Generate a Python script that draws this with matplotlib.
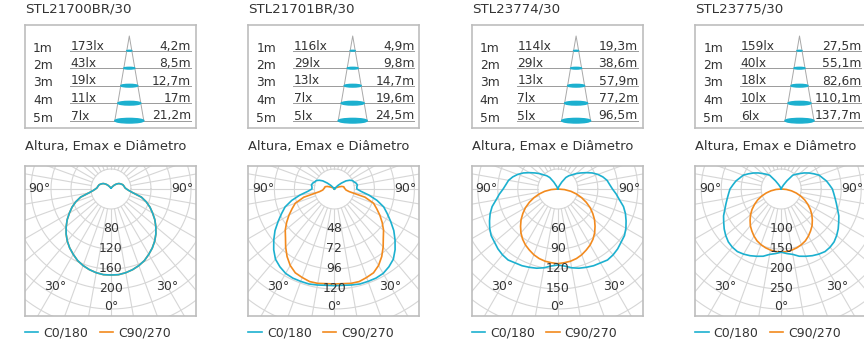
'''
Catalogue sheet: illuminance table and polar light distribution
for four spotlights.
'''

import numpy as np
import matplotlib
matplotlib.use('Agg')
from matplotlib import pyplot as pl
from matplotlib.patches import Ellipse

# Product codes
models = ['STL21700BR/30', 'STL21701BR/30', 'STL23774/30', 'STL23775/30']

# Table: mounting height, illuminance and beam diameter
heights = ['1m', '2m', '3m', '4m', '5m']
lux = [
       ['173lx', '43lx', '19lx', '11lx', '7lx'],
       ['116lx', '29lx', '13lx', '7lx', '5lx'],
       ['114lx', '29lx', '13lx', '7lx', '5lx'],
       ['159lx', '40lx', '18lx', '10lx', '6lx'],
       ]
diam = [
        ['4,2m', '8,5m', '12,7m', '17m', '21,2m'],
        ['4,9m', '9,8m', '14,7m', '19,6m', '24,5m'],
        ['19,3m', '38,6m', '57,9m', '77,2m', '96,5m'],
        ['27,5m', '55,1m', '82,6m', '110,1m', '137,7m'],
        ]

# Ring step of each polar diagram (cd/klm)
ring_step = [40, 24, 30, 50]

# Polar curves: angle from nadir [deg] and intensity [cd/klm]
ang = list(range(0, 181, 5))

c0_1 = [172, 172, 170, 167, 163, 158, 151, 144, 136, 127, 117, 107, 96,
        86, 75, 63, 45, 36, 31, 28, 27, 26, 25, 23, 21, 19, 16, 13, 10,
        7, 5, 4, 3, 2, 2, 2, 2]
c90_1 = [172, 172, 170, 167, 163, 158, 151, 144, 136, 127, 117, 107, 96,
         86, 75, 63, 45, 36, 31, 28, 27, 26, 25, 23, 21, 19, 16, 13, 10,
         7, 5, 4, 3, 2, 2, 2, 2]

c0_2 = [116, 116, 117, 118, 118, 118, 117, 114, 110, 103, 95, 87, 78,
        70, 63, 53, 42, 32, 27, 27, 28, 27, 25, 24, 21, 17, 11, 6, 2,
        1, 1, 0, 0, 0, 0, 0, 0]
c90_2 = [114, 114, 115, 115, 113, 111, 106, 99, 91, 83, 77, 70, 63,
         56, 50, 38, 18, 14, 13, 12, 12, 11, 9, 6, 4, 3, 2, 1, 1,
         0, 0, 0, 0, 0, 0, 0, 0]

c0_3 = [114, 116, 120, 123, 125, 127, 128, 130, 129, 127, 124, 122, 118,
        113, 108, 102, 94, 88, 82, 78, 75, 70, 64, 57, 49, 42, 36, 30, 26,
        21, 12, 5, 2, 1, 0, 0, 0]
c90_3 = [112, 111, 110, 108, 105, 101, 97, 92, 86, 79, 72, 64, 56,
         47, 38, 29, 20, 10, 0, 0, 0, 0, 0, 0, 0, 0, 0, 0, 0,
         0, 0, 0, 0, 0, 0, 0, 0]

c0_4 = [158, 162, 166, 174, 179, 184, 188, 191, 190, 187, 181, 174, 166,
        159, 150, 143, 137, 132, 128, 121, 115, 107, 101, 90, 80, 70, 60,
        52, 45, 25, 12, 5, 2, 1, 0, 0, 0]
c90_4 = [158, 157, 155, 152, 148, 143, 136, 128, 120, 110, 100, 89, 77,
         65, 52, 39, 26, 13, 0, 0, 0, 0, 0, 0, 0, 0, 0, 0, 0,
         0, 0, 0, 0, 0, 0, 0, 0]

curves = [(c0_1, c90_1), (c0_2, c90_2), (c0_3, c90_3), (c0_4, c90_4)]

blue = '#1cb0cf'
orange = '#f28a1e'
grid = '#d6d6d6'
frame = '#bdbdbd'
ink = '#333333'

W, H = 864.0, 346.0


def rect(x, y, w, h):
    '''
    Axes rectangle from pixel box (origin at top left).
    '''
    return [x/W, 1-(y+h)/H, w/W, h/H]


def mirrored(angles, values):
    '''
    Close a symmetric curve (both half planes) and return x, y.
    '''
    a = np.radians(np.asarray(angles, dtype=float))
    r = np.asarray(values, dtype=float)
    th = np.concatenate([-a[::-1], a[1:]])
    rr = np.concatenate([r[::-1], r[1:]])
    return rr*np.sin(th), -rr*np.cos(th)


fig = pl.figure(figsize=(8.64, 3.46), dpi=100)

for i in range(4):

    left = 25 + 223.4*i

    fig.text(left/W, 1-8.5/H, models[i], fontsize=9.6, color=ink,
             ha='left', va='center')
    fig.text(left/W, 1-146.7/H, 'Altura, Emax e Diâmetro', fontsize=9.4,
             color=ink, ha='left', va='center')

    # Illuminance table with the light cone
    ax = fig.add_axes(rect(left, 25, 171, 103))
    ax.set_xlim(0, 171)
    ax.set_ylim(103, 0)
    ax.set_xticks([])
    ax.set_yticks([])
    for sp in ax.spines.values():
        sp.set_color(frame)
        sp.set_linewidth(1.2)

    apex = (104.3, 11)
    base = 95.7
    half = 14.5
    ax.plot([apex[0]-half, apex[0], apex[0]+half], [base, apex[1], base],
            color='#a8a8a8', lw=0.7)

    for j in range(5):
        yl = 25.7 + 17.5*j
        ax.plot([45, 166], [yl, yl], color='#9a9a9a', lw=0.7, zorder=1)
        w = 2*half*(yl-apex[1])/(base-apex[1])
        ax.add_patch(Ellipse((apex[0], yl), w, max(0.8, w*0.16),
                             color=blue, zorder=2))
        ax.text(8, yl+0.8, heights[j], fontsize=8.8, color=ink,
                ha='left', va='baseline')
        ax.text(45.5, yl-1.2, lux[i][j], fontsize=8.8, color=ink,
                ha='left', va='baseline')
        ax.text(166, yl-1.2, diam[i][j], fontsize=8.8, color=ink,
                ha='right', va='baseline')

    # Polar diagram clipped to a box
    s = ring_step[i]
    axp = fig.add_axes(rect(left, 166, 171, 150))
    axp.set_xlim(-86/20*s, 85/20*s)
    axp.set_ylim(-127/20*s, 23/20*s)
    axp.set_xticks([])
    axp.set_yticks([])
    for sp in axp.spines.values():
        sp.set_color(frame)
        sp.set_linewidth(1.2)
        sp.set_zorder(5)

    t = np.linspace(0, 2*np.pi, 361)
    for k in range(1, 9):
        axp.plot(k*s*np.cos(t), k*s*np.sin(t), color=grid, lw=0.8,
                 zorder=1)
    for a in range(0, 360, 10):
        ar = np.radians(a)
        axp.plot([s*np.sin(ar), 8*s*np.sin(ar)],
                 [s*np.cos(ar), 8*s*np.cos(ar)],
                 color=grid, lw=0.8, zorder=1)

    for k in range(2, 6):
        axp.text(0, -k*s, str(k*s), fontsize=9, color=ink,
                 ha='center', va='center', zorder=4)
    axp.text(0, -5.88*s, '0°', fontsize=9, color=ink,
             ha='center', va='center', zorder=4)
    for sign in (-1, 1):
        axp.text(sign*2.8*s, -4.85*s, '30°', fontsize=9, color=ink,
                 ha='center', va='center', zorder=4)
        axp.text(sign*3.56*s, 0, '90°', fontsize=9, color=ink,
                 ha='center', va='center', zorder=4)

    c0, c90 = curves[i]
    x, y = mirrored(ang, c90)
    l90, = axp.plot(x, y, color=orange, lw=1.2, zorder=3)
    x, y = mirrored(ang, c0)
    l0, = axp.plot(x, y, color=blue, lw=1.2, zorder=3)

    leg = axp.legend([l0, l90], ['C0/180', 'C90/270'], loc='center left',
                     bbox_to_anchor=(0, -16.7/150), ncol=2, frameon=False,
                     fontsize=9, handlelength=1.07, handletextpad=0.4,
                     columnspacing=0.9, borderpad=0, borderaxespad=0)
    for txt in leg.get_texts():
        txt.set_color(ink)

fig.savefig('out.png', dpi=100)
